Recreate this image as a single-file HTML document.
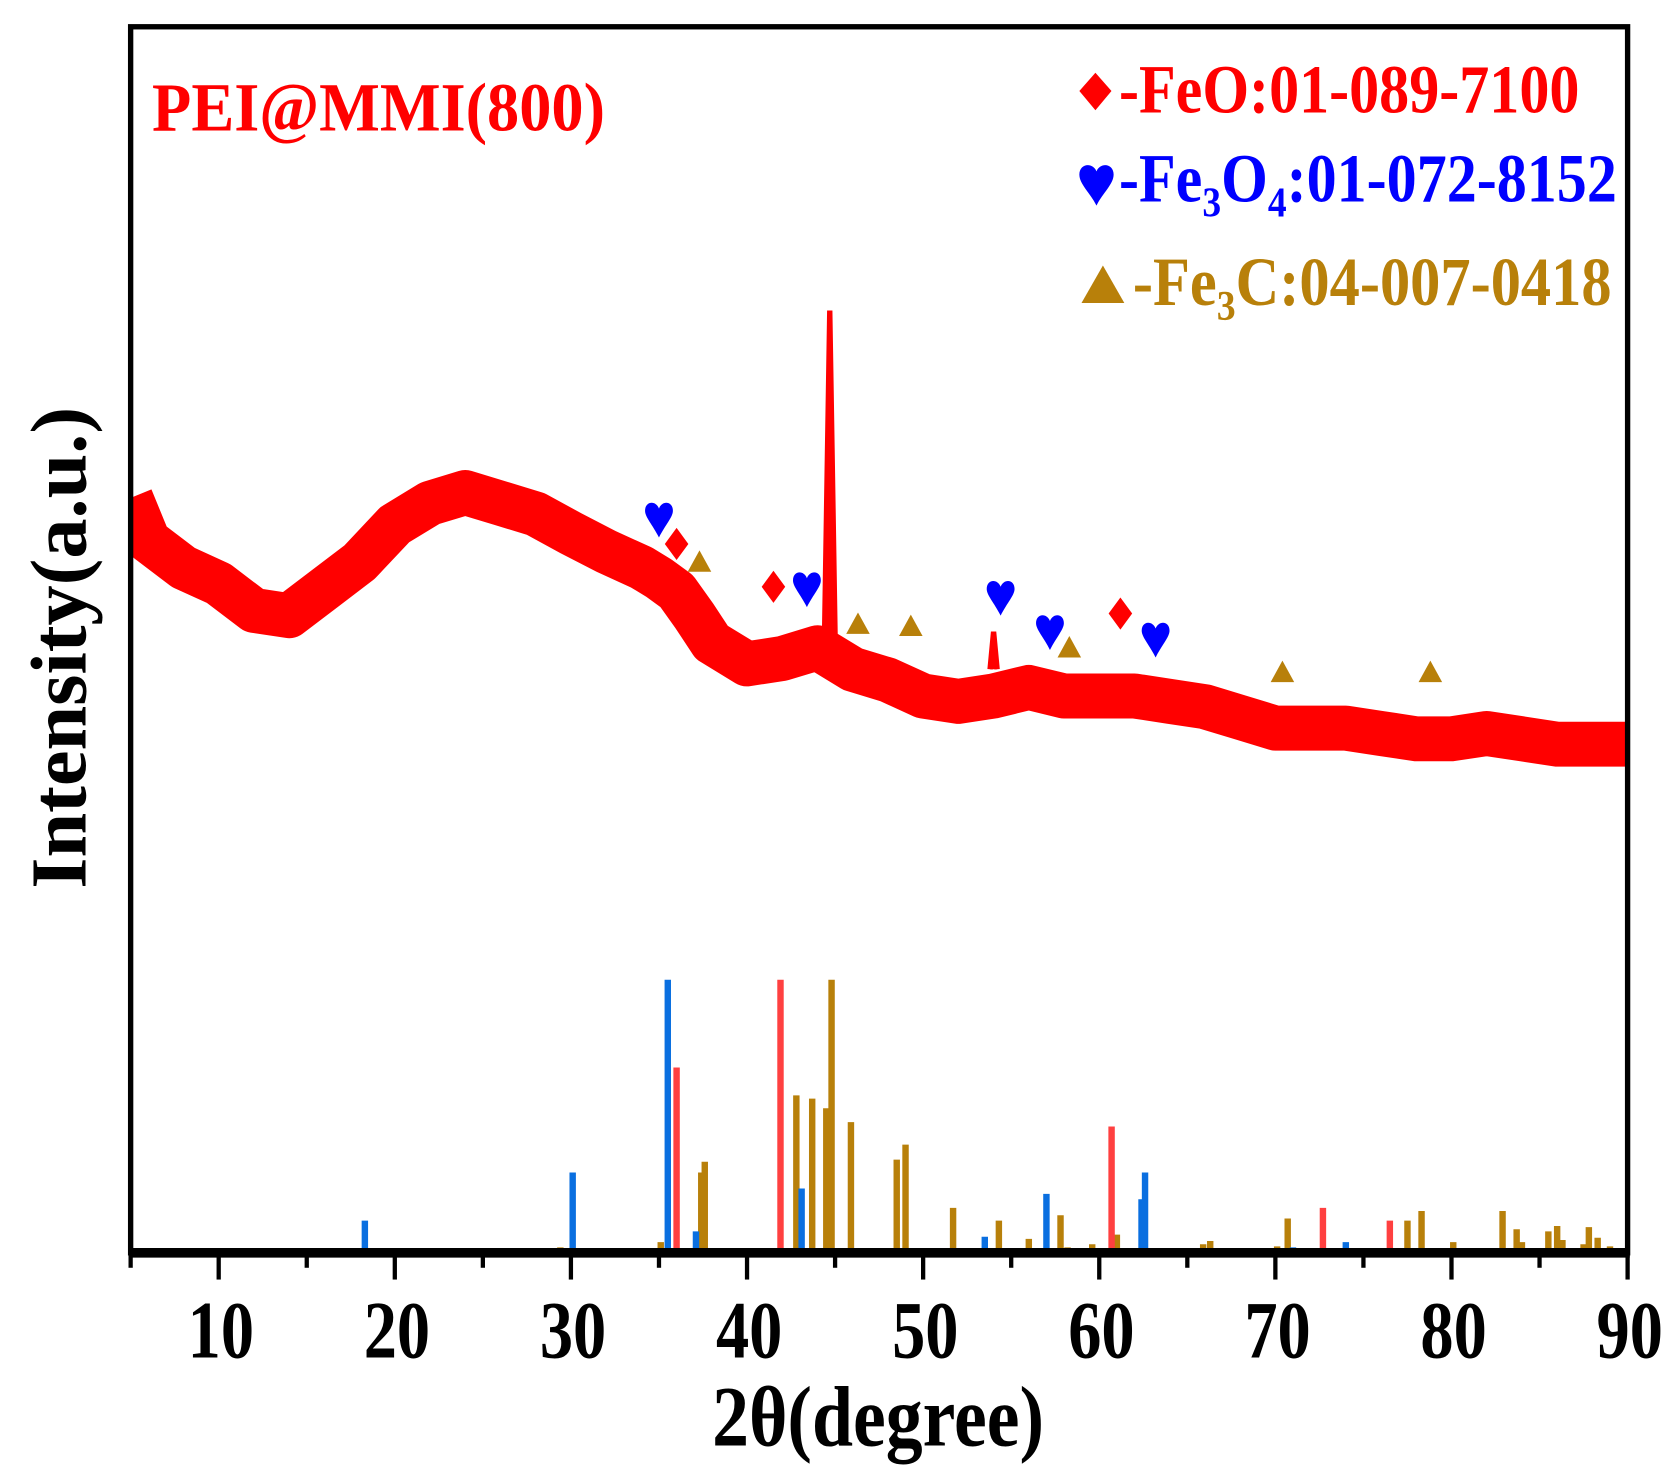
<!DOCTYPE html>
<html><head><meta charset="utf-8"><style>html,body{margin:0;padding:0;background:#fff;}svg{display:block;}</style></head>
<body>
<svg id="chart" xmlns="http://www.w3.org/2000/svg" width="1679" height="1483" viewBox="0 0 1568 1385" preserveAspectRatio="none">
<defs><clipPath id="pc"><rect x="124" y="27" width="1394" height="1141"/></clipPath></defs>
<rect x="0" y="0" width="1568" height="1385" fill="#fff"/>
<g id="plot" clip-path="url(#pc)"></g>
<rect x="122" y="25" width="1398" height="1145" fill="none" stroke="#000" stroke-width="5"/>
<line x1="120" y1="1170" x2="1522" y2="1170" stroke="#000" stroke-width="9"/>
<g id="xticks"></g>
<text x="820" y="1350" text-anchor="middle" font-family="Liberation Serif, serif" font-weight="bold" font-size="80" textLength="310" lengthAdjust="spacingAndGlyphs">2θ(degree)</text>
<text transform="translate(80,605) rotate(-90)" text-anchor="middle" font-family="Liberation Serif, serif" font-weight="bold" font-size="74" textLength="450" lengthAdjust="spacingAndGlyphs">Intensity(a.u.)</text>
<text x="142" y="122" fill="#ff0000" font-family="Liberation Serif, serif" font-weight="bold" font-size="64" textLength="423" lengthAdjust="spacingAndGlyphs">PEI@MMI(800)</text>
<g>
<path d="M1023,68 L1038,85 L1023,103 L1008,85 Z" fill="#ff0000"/>
<text x="1045" y="105" fill="#ff0000" font-family="Liberation Serif, serif" font-weight="bold" font-size="64" textLength="430" lengthAdjust="spacingAndGlyphs">-FeO:01-089-7100</text>
<path d="M1024,192 C1018,180 1008,172 1008,163 C1008,153 1020,151 1024,160 C1028,151 1040,153 1040,163 C1040,172 1030,180 1024,192 Z" fill="#0000ff"/>
<text x="1045" y="188" fill="#0000ff" font-family="Liberation Serif, serif" font-weight="bold" font-size="64" textLength="465" lengthAdjust="spacingAndGlyphs">-Fe<tspan font-size="40" dy="14">3</tspan><tspan dy="-14">O</tspan><tspan font-size="40" dy="14">4</tspan><tspan dy="-14">:01-072-8152</tspan></text>
<path d="M1030,248 L1050,283 L1010,283 Z" fill="#b8800a"/>
<text x="1058" y="285" fill="#b8800a" font-family="Liberation Serif, serif" font-weight="bold" font-size="64" textLength="447" lengthAdjust="spacingAndGlyphs">-Fe<tspan font-size="40" dy="14">3</tspan><tspan dy="-14">C:04-007-0418</tspan></text>
</g>
</svg>
<script>
// measured pattern envelope (2θ, intensity in a.u.)
const patternX = [5,6,8,10,12,14,16,18,20,22,24,26,28,30,32,34,35,36,37,38,40,42,44,46,48,50,52,54,56,58,60,62,64,66,68,70,72,74,76,78,80,82,84,86,88,90];
const patternY = [705,665,640,625,600,595,620,645,680,700,710,700,690,672,655,640,630,618,595,570,550,555,565,545,535,520,515,520,528,520,520,520,515,510,500,490,490,490,485,480,480,485,480,475,475,475];
// sharp peaks on the pattern
const peakX = [44.4,44.7,45.0,53.8,54.0,54.2];
const peakY = [575,880,575,545,580,545];
// reference sticks
const fe3o4X = [18.3,30.1,35.5,37.1,43.1,47.0,53.5,57.0,62.4,62.6,71.0,74.0,79.0];
const fe3o4Y = [30,75,255,20,60,2,15,55,50,75,5,10,3];
const feoX = [36.0,41.9,60.7,72.7,76.5];
const feoY = [173,255,118,42,30];
const fe3cX = [26.4,29.4,35.1,37.4,37.6,42.8,43.7,44.5,44.8,45.9,48.5,49.0,51.7,54.3,56.0,57.8,58.2,59.6,61.0,65.9,66.3,69.5,70.1,70.7,77.5,78.3,80.1,82.9,83.7,84.0,85.5,86.0,86.3,87.5,87.8,88.3,89.0,89.7];
const fe3cY = [2,5,10,75,85,147,144,135,255,122,87,101,42,30,13,35,5,8,17,8,11,3,6,32,30,39,10,39,22,10,20,25,12,8,24,14,6,4];
// phase markers (2θ, intensity)
const heartX = [35.0,43.4,54.4,57.2,63.2];
const heartY = [685,620,612,580,573];
const diamondX = [36.0,41.5,61.2];
const diamondY = [662,622,597];
const triX = [37.3,46.3,49.3,58.3,70.4,78.8];
const triY = [645,587,585,565,542,542];
const tickVals = [10,20,30,40,50,60,70,80,90];
const tickLabels = ["10","20","30","40","50","60","70","80","90"];

const NS = "http://www.w3.org/2000/svg";
const X0 = 122, X1 = 1520, Y0 = 1170;
function xs(v){ return X0 + (v - 5) / 85 * (X1 - X0); }
function ys(v){ return Y0 - v; }
const plot = document.getElementById('plot');
function mk(tag, attrs, parent){ const e = document.createElementNS(NS, tag); for (const k in attrs) e.setAttribute(k, attrs[k]); (parent||plot).appendChild(e); return e; }

let d = patternX.map((x,i)=>(i?'L':'M')+xs(x).toFixed(1)+','+ys(patternY[i]).toFixed(1)).join(' ');
const band = mk('path', {d:d, fill:'none', stroke:'#ff0000', 'stroke-width':42, 'stroke-linejoin':'round'});


let pd = peakX.map((x,i)=>((i%3)?'L':'M')+xs(x).toFixed(1)+','+ys(peakY[i]).toFixed(1)).join(' ');
const pk = mk('path', {d:pd, fill:'#ff0000', stroke:'#ff0000', 'stroke-width':5});



function sticks(xArr, yArr, color, name){
  xArr.forEach((x,i)=>{
    const l = mk('line', {x1:xs(x), x2:xs(x), y1:Y0, y2:ys(yArr[i]), stroke:color, 'stroke-width':6});
    
    
  });
}
sticks(fe3cX, fe3cY, '#b8800a', 'fe3c-stick');
sticks(fe3o4X, fe3o4Y, '#0a6fe0', 'fe3o4-stick');
sticks(feoX, feoY, '#ff4040', 'feo-stick');

heartX.forEach((x,i)=>{
  const cx = xs(x), cy = ys(heartY[i]);
  const h = mk('path', {d:`M${cx},${cy+17} C${cx-6},${cy+5} ${cx-13},${cy-2} ${cx-13},${cy-8} C${cx-13},${cy-17} ${cx-3},${cy-18} ${cx},${cy-10} C${cx+3},${cy-18} ${cx+13},${cy-17} ${cx+13},${cy-8} C${cx+13},${cy-2} ${cx+6},${cy+5} ${cx},${cy+17} Z`, fill:'#0000ff'});
  
  
});
diamondX.forEach((x,i)=>{
  const cx = xs(x), cy = ys(diamondY[i]);
  const m = mk('path', {d:`M${cx},${cy-15} L${cx+11},${cy} L${cx},${cy+15} L${cx-11},${cy} Z`, fill:'#ff0000'});
  
  
});
triX.forEach((x,i)=>{
  const cx = xs(x), cy = ys(triY[i]);
  const t = mk('path', {d:`M${cx},${cy-11} L${cx+11},${cy+9} L${cx-11},${cy+9} Z`, fill:'#b8800a'});
  
  
});

const xt = document.getElementById('xticks');
for (let v = 5; v <= 90; v += 5){
  const major = v % 10 === 0;
  const tk = mk('line', {x1:xs(v), x2:xs(v), y1:Y0, y2:Y0 + (major?25:14), stroke:'#000', 'stroke-width':4}, xt);
  
  
}
tickVals.forEach((v,i)=>{
  const t = mk('text', {x:xs(v)+2, y:1268, 'text-anchor':'middle', 'font-family':'Liberation Serif, serif', 'font-weight':'bold', 'font-size':76, textLength:62, lengthAdjust:'spacingAndGlyphs'}, xt);
  t.textContent = tickLabels[i];
  
  
});
</script>
</body></html>
